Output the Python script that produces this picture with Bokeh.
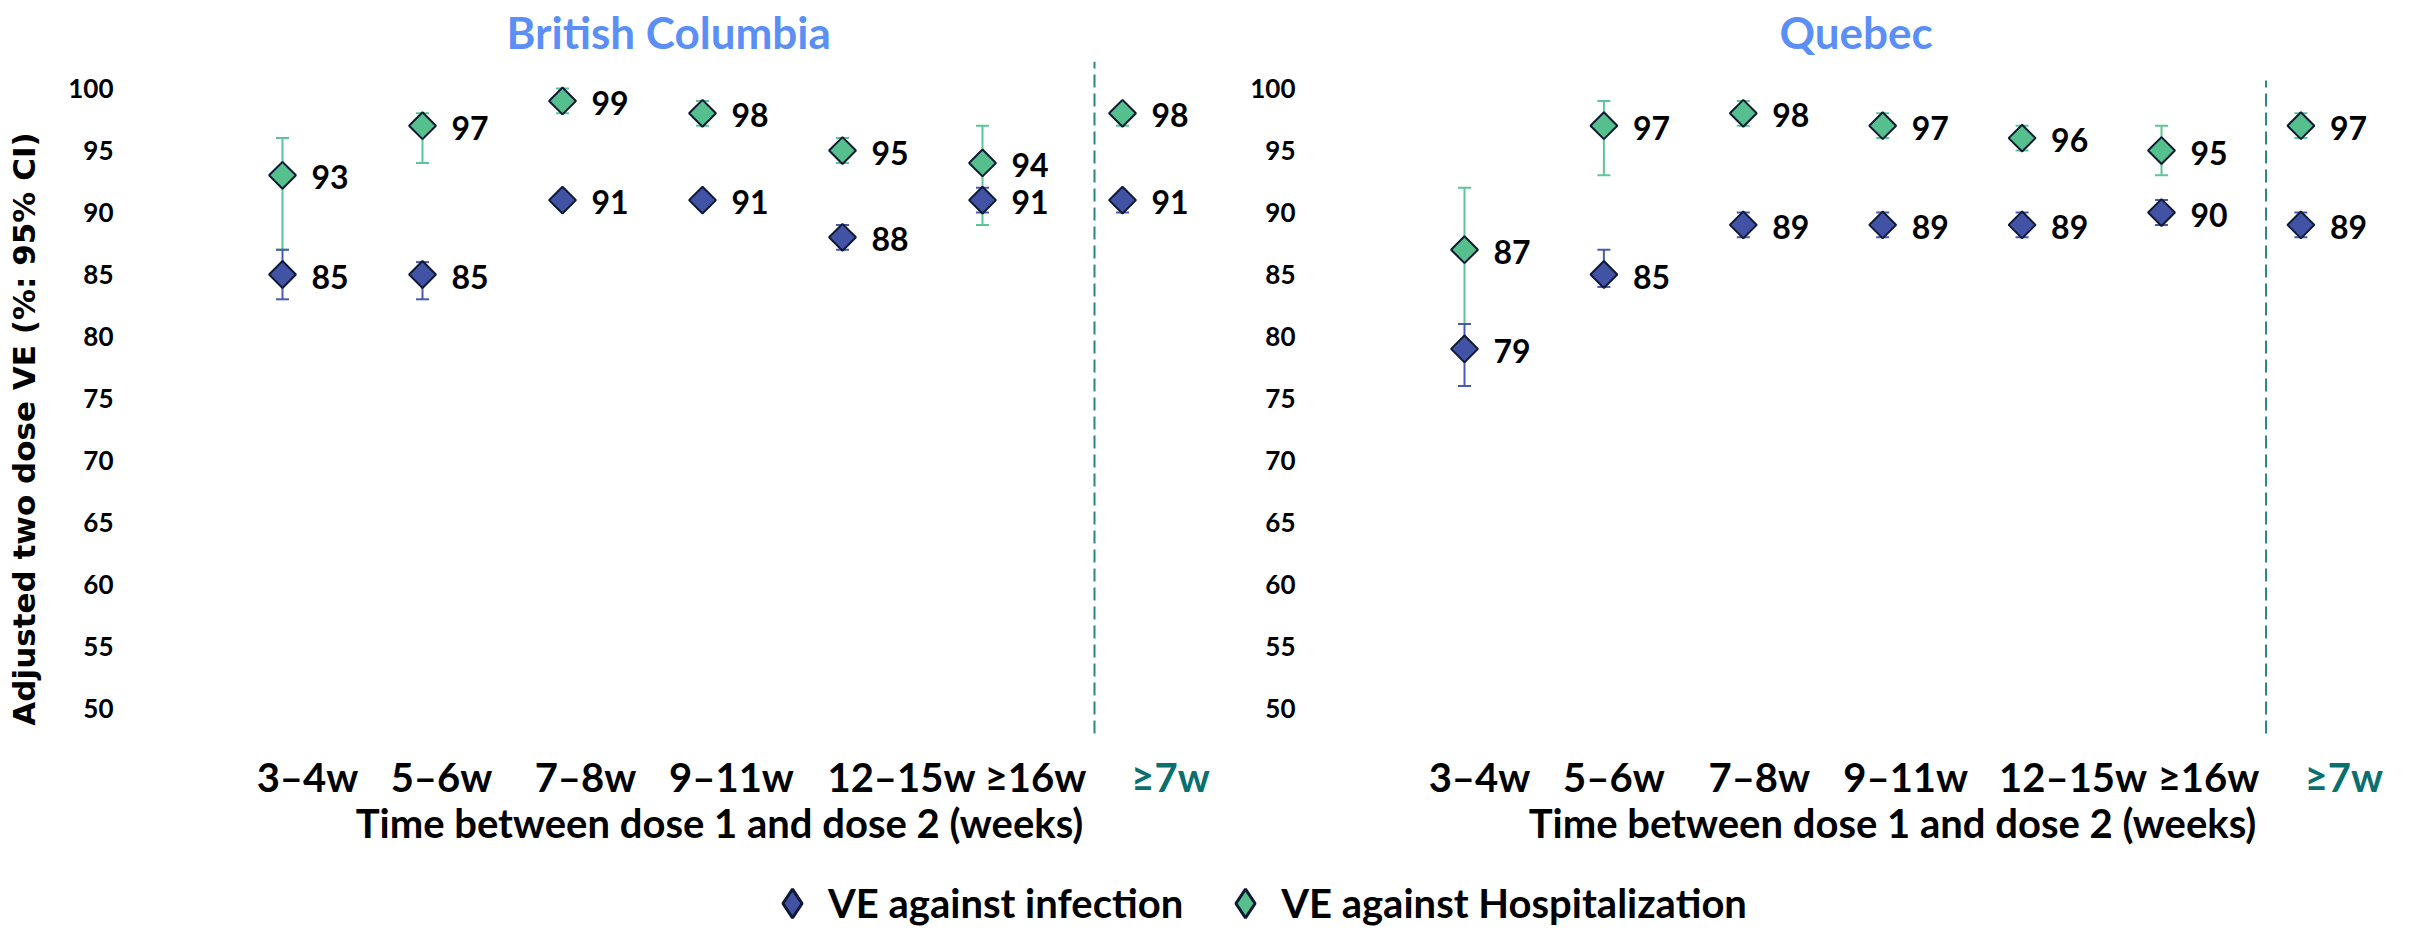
import numpy as np
from bokeh.plotting import figure
from bokeh.layouts import row, column
from bokeh.models import (ColumnDataSource, Range1d, FixedTicker, Whisker, TeeHead,
                          Legend, LegendItem)
from bokeh.core.properties import value
from bokeh.embed import file_html
from bokeh.resources import INLINE

# ---------------- data ----------------
CATEGORIES = ["3–4w", "5–6w", "7–8w", "9–11w", "12–15w", "≥16w", "≥7w"]
Y_TICKS = [50, 55, 60, 65, 70, 75, 80, 85, 90, 95, 100]

BC_INF = [85, 85, 91, 91, 88, 91, 91]
BC_INF_LO = [83, 83, 91, 91, 87, 90, 90]
BC_INF_HI = [87, 86, 91, 91, 89, 92, 91]
BC_HOSP = [93, 97, 99, 98, 95, 94, 98]
BC_HOSP_LO = [87, 94, 98, 97, 94, 89, 97]
BC_HOSP_HI = [96, 98, 100, 99, 96, 97, 98]

QC_INF = [79, 85, 89, 89, 89, 90, 89]
QC_INF_LO = [76, 84, 88, 88, 88, 89, 88]
QC_INF_HI = [81, 87, 90, 90, 90, 91, 90]
QC_HOSP = [87, 97, 98, 97, 96, 95, 97]
QC_HOSP_LO = [81, 93, 97, 96, 95, 93, 96]
QC_HOSP_HI = [92, 99, 99, 98, 97, 97, 98]

SERIES_NAMES = ["VE against infection", "VE against Hospitalization"]
PANEL_TITLES = ["British Columbia", "Quebec"]
X_TITLE = "Time between dose 1 and dose 2 (weeks)"
Y_TITLE = "Adjusted two dose VE (%: 95% CI)"

# ---------------- styles ----------------
FONT = "Lato"
INF_FILL = "#4253A6"
HOSP_FILL = "#55BF8D"
MARKER_LINE = "#0E1A33"
INF_ERR = "#4A5AB4"
HOSP_ERR = "#5CC596"
SEP_COLOR = "#2B8383"
TEAL = "#0B6F70"
TITLE_BLUE = "#5B8FF6"
CAT_COLORS = ["black"] * 6 + [TEAL]   # pooled ">=7w" label is teal

TOTAL_H = 936
BORDER_TOP = 61
BORDER_BOTTOM = 62
Y_RANGE = (42.9, 102.18)      # frame also holds the category-label row
PX_PER_UNIT = 12.4
FRAME_H = round((Y_RANGE[1] - Y_RANGE[0]) * PX_PER_UNIT)
ROW_H = BORDER_TOP + FRAME_H + BORDER_BOTTOM
LEG_H = TOTAL_H - ROW_H
AXIS_BOTTOM = 47.98           # lower end of the value area / separator
CAT_ROW_Y = 44.44             # vertical position of the category labels

LAYOUT = {
    "British Columbia": dict(w=1246, bl=192, br=0, x0=282, step=140.0, frame_l=192, frame_r=1246,
                             title_off=314, sep=5.8, sep_top=102.18, ylabel=True,
                             nudge=[25, 19, 23, 29, 59, 53, 48]),
    "Quebec": dict(w=1145, bl=151, br=4, x0=218, step=139.4, frame_l=151, frame_r=1141,
                   title_off=382, sep=5.75, sep_top=100.65, ylabel=False,
                   nudge=[15, 10, 16, 23, 51, 47, 43]),
}


def make_panel(title, inf, inf_lo, inf_hi, hosp, hosp_lo, hosp_hi):
    lay = LAYOUT[title]
    step = lay["step"]
    xs = list(range(len(CATEGORIES)))
    x_range = Range1d((lay["frame_l"] - lay["x0"]) / step, (lay["frame_r"] - lay["x0"]) / step)
    p = figure(width=lay["w"], height=ROW_H, x_range=x_range, y_range=Range1d(*Y_RANGE),
               toolbar_location=None, output_backend="svg",
               min_border_left=lay["bl"], min_border_right=lay["br"],
               min_border_top=BORDER_TOP, min_border_bottom=BORDER_BOTTOM,
               outline_line_color=None)
    p.xgrid.visible = False
    p.ygrid.visible = False

    p.title.text = title
    p.title.align = "left"
    p.title.offset = lay["title_off"]
    p.title.standoff = 7
    p.title.text_font = FONT
    p.title.text_font_size = "44px"
    p.title.text_font_style = "bold"
    p.title.text_color = TITLE_BLUE

    # y axis
    ya = p.yaxis[0]
    ya.ticker = FixedTicker(ticks=Y_TICKS)
    ya.axis_line_color = None
    ya.major_tick_line_color = None
    ya.minor_tick_line_color = None
    ya.major_tick_out = 0
    ya.major_label_standoff = 79 if lay["ylabel"] else 102
    ya.major_label_text_font = FONT
    ya.major_label_text_font_style = "bold"
    ya.major_label_text_font_size = "26px"
    ya.major_label_text_color = "black"
    if lay["ylabel"]:
        ya.axis_label = Y_TITLE
        ya.axis_label_text_font = "DejaVu Sans"
        ya.axis_label_text_font_style = "bold"
        ya.axis_label_text_font_size = "31px"
        ya.axis_label_text_color = "black"
        ya.axis_label_standoff = 23

    # x axis: title only; category labels are drawn below the value area
    xa = p.xaxis[0]
    xa.ticker = FixedTicker(ticks=[])
    xa.axis_line_color = None
    xa.major_tick_line_color = None
    xa.minor_tick_line_color = None
    xa.major_tick_out = 0
    xa.major_label_standoff = 0
    xa.axis_label = X_TITLE
    xa.axis_label_text_font = FONT
    xa.axis_label_text_font_style = "bold"
    xa.axis_label_text_font_size = "40px"
    xa.axis_label_text_color = "black"
    xa.axis_label_standoff = 2

    cat_src = ColumnDataSource(dict(
        x=[i + lay["nudge"][i] / step for i in xs],
        y=[CAT_ROW_Y] * len(CATEGORIES),
        t=CATEGORIES,
        c=CAT_COLORS,
    ))
    p.text("x", "y", text="t", source=cat_src, text_color="c",
           text_align="center", text_baseline="middle",
           text_font=value(FONT), text_font_style="bold", text_font_size="40px")

    # separator between individual intervals and pooled >=7w
    p.segment(x0=[lay["sep"]], y0=[AXIS_BOTTOM], x1=[lay["sep"]], y1=[lay["sep_top"]],
              line_color=SEP_COLOR, line_width=2, line_dash="13 6")

    src_h = ColumnDataSource(dict(x=xs, y=hosp, lo=hosp_lo, hi=hosp_hi, t=[str(v) for v in hosp]))
    src_i = ColumnDataSource(dict(x=xs, y=inf, lo=inf_lo, hi=inf_hi, t=[str(v) for v in inf]))

    for src, col in ((src_h, HOSP_ERR), (src_i, INF_ERR)):
        p.add_layout(Whisker(base="x", lower="lo", upper="hi", source=src, dimension="height",
                             line_color=col, line_width=2,
                             upper_head=TeeHead(size=13, line_color=col, line_width=2),
                             lower_head=TeeHead(size=13, line_color=col, line_width=2)))

    for src, fill in ((src_h, HOSP_FILL), (src_i, INF_FILL)):
        p.scatter("x", "y", source=src, marker="square", angle=np.pi / 4, size=19,
                  fill_color=fill, line_color=MARKER_LINE, line_width=2)
        p.text("x", "y", text="t", source=src, x_offset=29, y_offset=2,
               text_align="left", text_baseline="middle",
               text_font=value(FONT), text_font_style="bold", text_font_size="32px",
               text_color="black")
    return p


bc = make_panel(PANEL_TITLES[0], BC_INF, BC_INF_LO, BC_INF_HI, BC_HOSP, BC_HOSP_LO, BC_HOSP_HI)
qc = make_panel(PANEL_TITLES[1], QC_INF, QC_INF_LO, QC_INF_HI, QC_HOSP, QC_HOSP_LO, QC_HOSP_HI)

# ---------------- legend strip ----------------
lf = figure(width=2391, height=LEG_H, x_range=Range1d(0, 1), y_range=Range1d(0, 1),
            toolbar_location=None, output_backend="svg", min_border=0,
            outline_line_color=None, x_axis_type=None, y_axis_type=None)
lf.xgrid.visible = False
lf.ygrid.visible = False
items = []
for name, fill in zip(SERIES_NAMES, (INF_FILL, HOSP_FILL)):
    # legend-only renderer: one NaN point so the swatch is drawn but nothing is plotted
    r = lf.scatter("x", "y", source=ColumnDataSource(dict(x=[np.nan], y=[np.nan])),
                   marker="diamond", fill_color=fill, line_color=MARKER_LINE, line_width=3)
    items.append(LegendItem(label=name, renderers=[r]))
legend = Legend(items=items, orientation="horizontal", location=(756, -3),
                glyph_width=72, glyph_height=72, label_standoff=0, spacing=26,
                padding=0, margin=0, border_line_color=None, background_fill_alpha=0,
                label_text_font=FONT, label_text_font_style="bold",
                label_text_font_size="40px", label_text_color="black")
lf.add_layout(legend)

layout = column(row(bc, qc), lf)
open("out.html", "w").write(file_html(layout, INLINE))
